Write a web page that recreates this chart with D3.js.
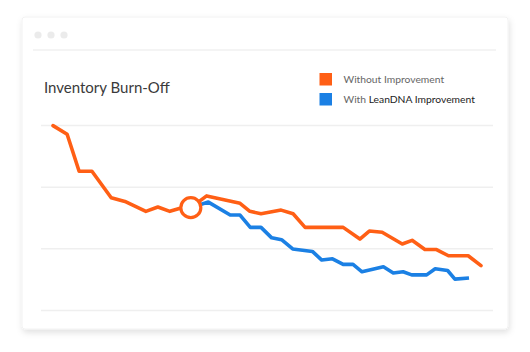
<!DOCTYPE html>
<html>
<head>
<meta charset="utf-8">
<script src="https://cdn.jsdelivr.net/npm/d3@7/dist/d3.min.js"></script>
<style>
  html, body { margin: 0; padding: 0; background: #ffffff; }
  svg { display: block; }
</style>
</head>
<body>
<svg id="chart" width="530" height="352"></svg>
<script>
// ---- data ----
const title = "Inventory Burn-Off";
const seriesNames = ["Without Improvement", "With LeanDNA Improvement"];
const seriesColors = ["#ff5f15", "#1b80e4"];

const xWithout = [0, 3.3, 6.1, 9.1, 13.6, 16.8, 21.7, 24.5, 27.3, 29.7, 32.2, 35.9, 43.7, 46.0, 48.6, 53.3, 56.1, 58.9, 67.8, 71.7, 73.9, 76.9, 81.6, 83.9, 86.9, 89.6, 92.4, 97.0, 100];
const yWithout = [299, 285, 225, 225, 182, 176, 160, 167, 160, 165, 166, 185, 173, 160, 156, 162, 156, 134, 134, 115, 128, 126, 107, 113, 98, 98, 88, 88, 72];

const xWith = [32.2, 36.3, 41.4, 43.7, 46.1, 48.6, 51.1, 53.4, 56.0, 60.6, 62.8, 65.3, 67.8, 70.1, 72.2, 77.2, 79.5, 81.8, 83.8, 87.3, 89.3, 92.2, 93.9, 97.2];
const yWith = [166, 175, 154, 154, 134, 134, 117, 114, 99, 95, 81, 83, 74, 74, 62, 70, 60, 62, 57, 57, 67, 64, 50, 52];

const gridValues = [0, 100, 200, 300];
const markerX = 32.2, markerY = 166;

// ---- drawing ----
const svg = d3.select("#chart");
const defs = svg.append("defs");
const f = defs.append("filter").attr("id", "shadow").attr("x", "-10%").attr("y", "-10%").attr("width", "120%").attr("height", "125%");
f.append("feDropShadow").attr("dx", 1).attr("dy", 3).attr("stdDeviation", 3).attr("flood-color", "#000").attr("flood-opacity", 0.12);

// card
svg.append("rect").attr("x", 22).attr("y", 17).attr("width", 486).attr("height", 312)
  .attr("rx", 3).attr("fill", "#fff").attr("stroke", "#f2f2f2").attr("stroke-width", 1)
  .attr("filter", "url(#shadow)");

// window dots
svg.selectAll("circle.dot").data([38, 51, 64]).enter().append("circle")
  .attr("class", "dot").attr("cx", d => d).attr("cy", 35).attr("r", 3.6).attr("fill", "#ebebeb");

// header divider
svg.append("line").attr("x1", 33).attr("x2", 496).attr("y1", 50).attr("y2", 50)
  .attr("stroke", "#f0f0f0").attr("stroke-width", 1.5);

// title
svg.append("text").attr("x", 44).attr("y", 93).text(title)
  .attr("font-family", "Lato, 'Open Sans', sans-serif").attr("font-size", 15)
  .attr("fill", "#3a3a3a");

// legend
const legend = svg.append("g");
seriesNames.forEach((name, i) => {
  const y0 = 73 + i * 20;
  legend.append("rect").attr("x", 319.5).attr("y", y0).attr("width", 12.5).attr("height", 12.5)
    .attr("fill", seriesColors[i]);
  const t = legend.append("text").attr("x", 343.5).attr("y", y0 + 9.6)
    .attr("font-family", "Lato, 'Open Sans', sans-serif").attr("font-size", 10.3).attr("fill", "#666");
  if (i === 0) {
    t.text(name);
  } else {
    const parts = name.split(" ");
    t.append("tspan").text(parts[0] + " ");
    t.append("tspan").text(parts.slice(1).join(" ")).attr("fill", "#222");
  }
});

// scales
const x = d3.scaleLinear().domain([0, 100]).range([53, 481]);
const y = d3.scaleLinear().domain([0, 300]).range([310, 125]);

// gridlines via axis
const grid = svg.append("g")
  .call(d3.axisLeft(y).tickValues(gridValues).tickSize(-452).tickFormat(""))
  .attr("transform", "translate(41,0)");
grid.select(".domain").remove();
grid.selectAll(".tick line").attr("stroke", "#efefef").attr("stroke-width", 1.5);

const line = d3.line().x(d => x(d[0])).y(d => y(d[1]));

svg.append("path").datum(xWith.map((v, i) => [v, yWith[i]]))
  .attr("d", line).attr("fill", "none").attr("stroke", seriesColors[1])
  .attr("stroke-width", 3.6).attr("stroke-linejoin", "round").attr("stroke-linecap", "butt");

svg.append("path").datum(xWithout.map((v, i) => [v, yWithout[i]]))
  .attr("d", line).attr("fill", "none").attr("stroke", seriesColors[0])
  .attr("stroke-width", 3.6).attr("stroke-linejoin", "round").attr("stroke-linecap", "round");

// marker circle
svg.append("circle").attr("cx", x(markerX)).attr("cy", y(markerY)).attr("r", 10)
  .attr("fill", "#fff").attr("stroke", seriesColors[0]).attr("stroke-width", 3.2);
</script>
</body>
</html>
